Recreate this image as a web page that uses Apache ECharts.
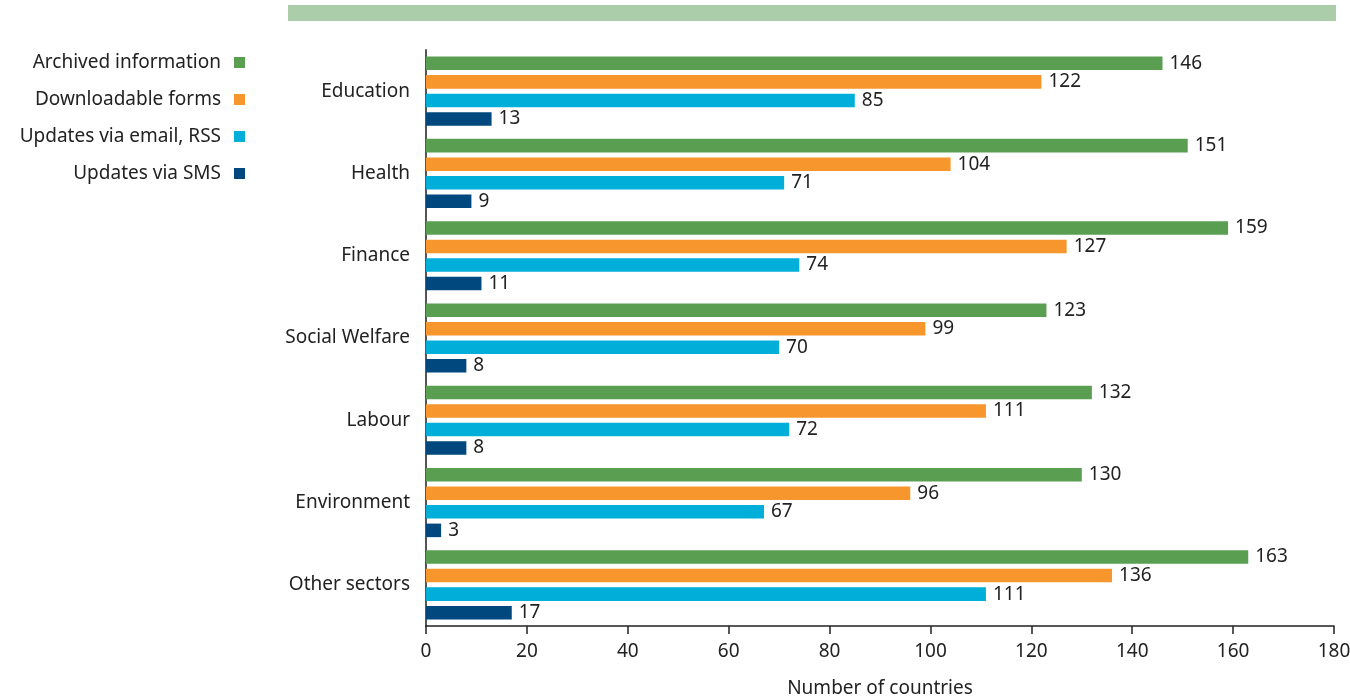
<!DOCTYPE html>
<html><head><meta charset="utf-8">
<script src="https://cdn.jsdelivr.net/npm/echarts@6/dist/echarts.min.js"></script>
<style>html,body{margin:0;padding:0;background:#fff}#c{width:1350px;height:698px}</style>
</head><body><div id="c"></div>
<script>
const categories = ['Education','Health','Finance','Social Welfare','Labour','Environment','Other sectors'];
const seriesNames = ['Archived information','Downloadable forms','Updates via email, RSS','Updates via SMS'];
const archived = [146,151,159,123,132,130,163];
const forms = [122,104,127,99,111,96,136];
const email = [85,71,74,70,72,67,111];
const sms = [13,9,11,8,8,3,17];
const xTicks = [0,20,40,60,80,100,120,140,160,180];
const colors = ['#5a9e52','#f7962c','#00afd9','#00487e'];
const FONT = 'Noto Sans';
const FS = 19;
const chart = echarts.init(document.getElementById('c'));
const dataSets = [archived, forms, email, sms];
chart.setOption({
  animation:false,
  textStyle:{fontFamily:FONT},
  graphic:[{type:'rect',shape:{x:288,y:5,width:1048,height:16},style:{fill:'#abcdaa'}}],
  legend:{
    orient:'vertical', right:1100, top:48, align:'right',
    itemWidth:11, itemHeight:11, itemGap:18, icon:'rect',
    textStyle:{fontSize:FS, color:'#222', fontFamily:FONT, padding:[0,8,0,0]},
    data:seriesNames
  },
  grid:{left:426, right:16, top:50, bottom:72, containLabel:false, outerBoundsMode:'none'},
  xAxis:{
    type:'value', min:0, max:180, interval:20,
    name:'Number of countries', nameLocation:'middle', nameGap:53,
    nameTextStyle:{fontSize:FS,color:'#222',fontFamily:FONT},
    axisLine:{show:true,lineStyle:{color:'#222',width:1.5}},
    axisTick:{show:true,length:8,lineStyle:{color:'#222',width:1.5}},
    axisLabel:{fontSize:FS,color:'#222',margin:16,fontFamily:FONT},
    splitLine:{show:false}
  },
  yAxis:{
    type:'category', data:categories, inverse:true,
    axisLine:{show:true,lineStyle:{color:'#555',width:2}},
    axisTick:{show:false},
    axisLabel:{fontSize:FS,color:'#222',margin:16,fontFamily:FONT}
  },
  series: seriesNames.map((n,i)=>({
    name:n, type:'bar', data:dataSets[i],
    itemStyle:{color:colors[i]},
    barGap:'37%', barCategoryGap:'16%',
    label:{show:true,position:'right',distance:7,fontSize:FS,color:'#222',fontFamily:FONT}
  }))
});
</script></body></html>
